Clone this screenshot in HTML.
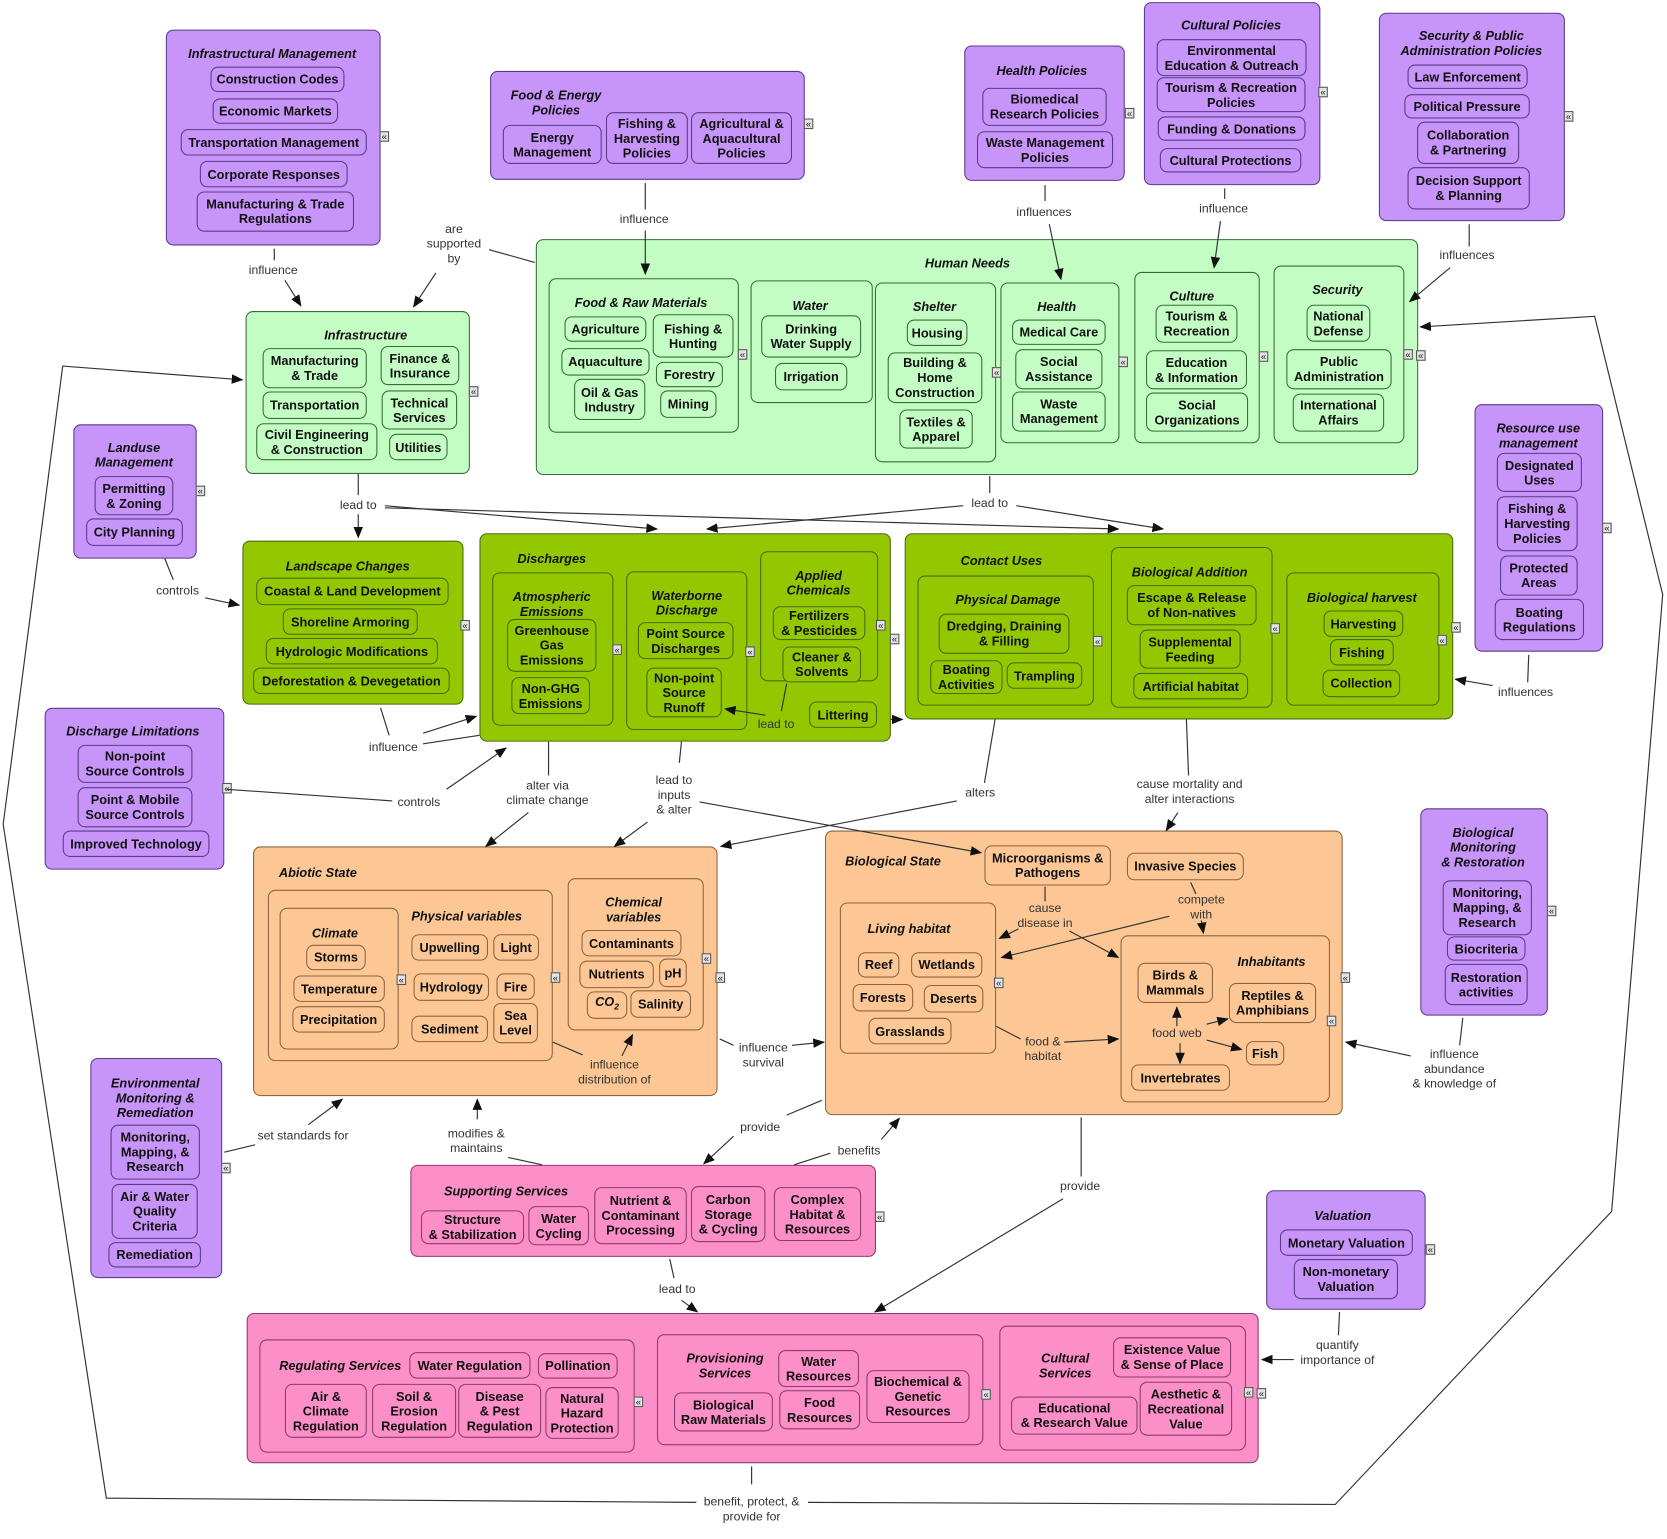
<!DOCTYPE html>
<html><head><meta charset="utf-8"><style>
body{margin:0;width:1667px;height:1539px;overflow:hidden;background:#fff;font-family:"Liberation Sans",Arial,sans-serif;color:#111}
#w{position:absolute;left:0;top:0;width:1568px;height:1447px;transform-origin:0 0;transform:scale(1.0631,1.058)}
.b{position:absolute;box-sizing:border-box;border-radius:7px;border:1.5px solid}
.s{position:absolute;box-sizing:border-box;border-radius:7px;border:1.3px solid}
.i{position:absolute;box-sizing:border-box;border-radius:7px;border:1.3px solid;display:flex;align-items:center;justify-content:center;text-align:center;font-weight:bold;font-size:12px;line-height:14px}
.T{position:absolute;transform:translate(-50%,-50%);font-style:italic;font-weight:bold;font-size:12px;line-height:14px;text-align:center;white-space:nowrap}
.L{position:absolute;transform:translate(-50%,-50%);font-size:11.5px;line-height:14px;text-align:center;white-space:nowrap;color:#333;background:#fff;padding:0 1px}
.Lo{background:#fcc794}
.c{position:absolute;width:9px;height:10px;box-sizing:border-box;border:1px solid #555;background:#e4e4e4;font-size:9px;line-height:8px;text-align:center;color:#222}
.p{background:#c794f9;border-color:#5b3b86}
.g{background:#c3fdc3;border-color:#3b6b3b}
.G{background:#93c800;border-color:#4b6b10}
.o{background:#fcc794;border-color:#8c6440}
.k{background:#fc8fc8;border-color:#8c3c6c}
svg{position:absolute;left:0;top:0}
</style></head><body><div id="w">

<!-- Infrastructural Management -->
<div class="b p" style="left:156px;top:28px;width:202px;height:204px"></div>
<div class="T" style="left:256px;top:51px">Infrastructural Management</div>
<div class="i p" style="left:198px;top:63px;width:126px;height:24px">Construction Codes</div>
<div class="i p" style="left:200px;top:93px;width:118px;height:24px">Economic Markets</div>
<div class="i p" style="left:170px;top:122px;width:175px;height:25px">Transportation Management</div>
<div class="i p" style="left:188px;top:152px;width:139px;height:25px">Corporate Responses</div>
<div class="i p" style="left:185px;top:181px;width:148px;height:38px">Manufacturing &amp; Trade<br>Regulations</div>
<div class="c" style="left:357px;top:124px">«</div>

<!-- Food & Energy Policies -->
<div class="b p" style="left:461px;top:67px;width:296px;height:103px"></div>
<div class="T" style="left:523px;top:97px">Food &amp; Energy<br>Policies</div>
<div class="i p" style="left:473px;top:118px;width:93px;height:37px">Energy<br>Management</div>
<div class="i p" style="left:570px;top:106px;width:77px;height:49px">Fishing &amp;<br>Harvesting<br>Policies</div>
<div class="i p" style="left:650px;top:106px;width:95px;height:49px">Agricultural &amp;<br>Aquacultural<br>Policies</div>
<div class="c" style="left:756px;top:112px">«</div>

<!-- Health Policies -->
<div class="b p" style="left:907px;top:43px;width:151px;height:128px"></div>
<div class="T" style="left:980px;top:67px">Health Policies</div>
<div class="i p" style="left:924px;top:83px;width:117px;height:36px">Biomedical<br>Research Policies</div>
<div class="i p" style="left:919px;top:124px;width:128px;height:35px">Waste Management<br>Policies</div>
<div class="c" style="left:1058px;top:102px">«</div>

<!-- Cultural Policies -->
<div class="b p" style="left:1076px;top:2px;width:166px;height:173px"></div>
<div class="T" style="left:1158px;top:24px">Cultural Policies</div>
<div class="i p" style="left:1088px;top:37px;width:141px;height:35px">Environmental<br>Education &amp; Outreach</div>
<div class="i p" style="left:1088px;top:73px;width:140px;height:33px">Tourism &amp; Recreation<br>Policies</div>
<div class="i p" style="left:1089px;top:110px;width:139px;height:23px">Funding &amp; Donations</div>
<div class="i p" style="left:1091px;top:140px;width:133px;height:23px">Cultural Protections</div>
<div class="c" style="left:1240px;top:82px">«</div>

<!-- Security & Public Admin Policies -->
<div class="b p" style="left:1297px;top:12px;width:175px;height:197px"></div>
<div class="T" style="left:1384px;top:41px">Security &amp; Public<br>Administration Policies</div>
<div class="i p" style="left:1324px;top:61px;width:113px;height:23px">Law Enforcement</div>
<div class="i p" style="left:1321px;top:89px;width:118px;height:23px">Political Pressure</div>
<div class="i p" style="left:1333px;top:115px;width:96px;height:40px">Collaboration<br>&amp; Partnering</div>
<div class="i p" style="left:1324px;top:158px;width:115px;height:40px">Decision Support<br>&amp; Planning</div>
<div class="c" style="left:1471px;top:105px">«</div>

<!-- Landuse Management -->
<div class="b p" style="left:69px;top:401px;width:116px;height:127px"></div>
<div class="T" style="left:126px;top:430px">Landuse<br>Management</div>
<div class="i p" style="left:89px;top:450px;width:74px;height:37px">Permitting<br>&amp; Zoning</div>
<div class="i p" style="left:81px;top:490px;width:91px;height:26px">City Planning</div>
<div class="c" style="left:184px;top:459px">«</div>

<!-- Discharge Limitations -->
<div class="b p" style="left:42px;top:669px;width:169px;height:153px"></div>
<div class="T" style="left:125px;top:691px">Discharge Limitations</div>
<div class="i p" style="left:73px;top:704px;width:108px;height:36px">Non-point<br>Source Controls</div>
<div class="i p" style="left:73px;top:744px;width:108px;height:38px">Point &amp; Mobile<br>Source Controls</div>
<div class="i p" style="left:59px;top:785px;width:138px;height:25px">Improved Technology</div>
<div class="c" style="left:209px;top:740px">«</div>

<!-- Resource use management -->
<div class="b p" style="left:1387px;top:382px;width:121px;height:234px"></div>
<div class="T" style="left:1447px;top:412px">Resource use<br>management</div>
<div class="i p" style="left:1408px;top:428px;width:80px;height:37px">Designated<br>Uses</div>
<div class="i p" style="left:1408px;top:469px;width:76px;height:52px">Fishing &amp;<br>Harvesting<br>Policies</div>
<div class="i p" style="left:1411px;top:525px;width:73px;height:38px">Protected<br>Areas</div>
<div class="i p" style="left:1406px;top:566px;width:84px;height:39px">Boating<br>Regulations</div>
<div class="c" style="left:1507px;top:494px">«</div>

<!-- Biological Monitoring & Restoration -->
<div class="b p" style="left:1336px;top:764px;width:120px;height:196px"></div>
<div class="T" style="left:1395px;top:801px">Biological<br>Monitoring<br>&amp; Restoration</div>
<div class="i p" style="left:1357px;top:832px;width:84px;height:52px">Monitoring,<br>Mapping, &amp;<br>Research</div>
<div class="i p" style="left:1361px;top:885px;width:74px;height:23px">Biocriteria</div>
<div class="i p" style="left:1359px;top:911px;width:78px;height:39px">Restoration<br>activities</div>
<div class="c" style="left:1455px;top:856px">«</div>

<!-- Environmental Monitoring & Remediation -->
<div class="b p" style="left:85px;top:1000px;width:124px;height:208px"></div>
<div class="T" style="left:146px;top:1038px">Environmental<br>Monitoring &amp;<br>Remediation</div>
<div class="i p" style="left:104px;top:1063px;width:84px;height:52px">Monitoring,<br>Mapping, &amp;<br>Research</div>
<div class="i p" style="left:105px;top:1119px;width:81px;height:52px">Air &amp; Water<br>Quality<br>Criteria</div>
<div class="i p" style="left:102px;top:1174px;width:87px;height:24px">Remediation</div>
<div class="c" style="left:208px;top:1099px">«</div>

<!-- Valuation -->
<div class="b p" style="left:1191px;top:1125px;width:150px;height:113px"></div>
<div class="T" style="left:1263px;top:1149px">Valuation</div>
<div class="i p" style="left:1204px;top:1162px;width:125px;height:25px">Monetary Valuation</div>
<div class="i p" style="left:1217px;top:1190px;width:98px;height:38px">Non-monetary<br>Valuation</div>
<div class="c" style="left:1341px;top:1176px">«</div>

<!-- Infrastructure -->
<div class="b g" style="left:231px;top:294px;width:211px;height:154px"></div>
<div class="T" style="left:344px;top:317px">Infrastructure</div>
<div class="i g" style="left:247px;top:329px;width:98px;height:38px">Manufacturing<br>&amp; Trade</div>
<div class="i g" style="left:358px;top:327px;width:74px;height:37px">Finance &amp;<br>Insurance</div>
<div class="i g" style="left:247px;top:370px;width:98px;height:26px">Transportation</div>
<div class="i g" style="left:359px;top:369px;width:71px;height:37px">Technical<br>Services</div>
<div class="i g" style="left:241px;top:400px;width:114px;height:35px">Civil Engineering<br>&amp; Construction</div>
<div class="i g" style="left:366px;top:410px;width:55px;height:25px">Utilities</div>
<div class="c" style="left:441px;top:365px">«</div>

<!-- Human Needs -->
<div class="b g" style="left:504px;top:226px;width:830px;height:223px"></div>
<div class="T" style="left:910px;top:249px">Human Needs</div>
<div class="s g" style="left:516px;top:263px;width:179px;height:146px"></div>
<div class="T" style="left:603px;top:286px">Food &amp; Raw Materials</div>
<div class="i g" style="left:531px;top:299px;width:77px;height:24px">Agriculture</div>
<div class="i g" style="left:614px;top:297px;width:76px;height:41px">Fishing &amp;<br>Hunting</div>
<div class="i g" style="left:528px;top:329px;width:83px;height:26px">Aquaculture</div>
<div class="i g" style="left:617px;top:342px;width:63px;height:24px">Forestry</div>
<div class="i g" style="left:540px;top:358px;width:67px;height:39px">Oil &amp; Gas<br>Industry</div>
<div class="i g" style="left:621px;top:369px;width:53px;height:26px">Mining</div>
<div class="c" style="left:694px;top:330px">«</div>
<div class="s g" style="left:706px;top:265px;width:115px;height:116px"></div>
<div class="T" style="left:762px;top:289px">Water</div>
<div class="i g" style="left:716px;top:298px;width:94px;height:40px">Drinking<br>Water Supply</div>
<div class="i g" style="left:729px;top:343px;width:68px;height:26px">Irrigation</div>
<div class="s g" style="left:823px;top:267px;width:114px;height:170px"></div>
<div class="T" style="left:879px;top:290px">Shelter</div>
<div class="i g" style="left:853px;top:302px;width:57px;height:25px">Housing</div>
<div class="i g" style="left:835px;top:333px;width:89px;height:48px">Building &amp;<br>Home<br>Construction</div>
<div class="i g" style="left:846px;top:387px;width:69px;height:37px">Textiles &amp;<br>Apparel</div>
<div class="c" style="left:933px;top:347px">«</div>
<div class="s g" style="left:941px;top:267px;width:112px;height:152px"></div>
<div class="T" style="left:994px;top:290px">Health</div>
<div class="i g" style="left:952px;top:302px;width:88px;height:24px">Medical Care</div>
<div class="i g" style="left:955px;top:330px;width:82px;height:38px">Social<br>Assistance</div>
<div class="i g" style="left:952px;top:370px;width:88px;height:38px">Waste<br>Management</div>
<div class="c" style="left:1052px;top:337px">«</div>
<div class="s g" style="left:1067px;top:257px;width:118px;height:162px"></div>
<div class="T" style="left:1121px;top:280px">Culture</div>
<div class="i g" style="left:1087px;top:288px;width:77px;height:36px">Tourism &amp;<br>Recreation</div>
<div class="i g" style="left:1078px;top:331px;width:95px;height:37px">Education<br>&amp; Information</div>
<div class="i g" style="left:1078px;top:371px;width:96px;height:37px">Social<br>Organizations</div>
<div class="c" style="left:1184px;top:332px">«</div>
<div class="s g" style="left:1198px;top:251px;width:123px;height:168px"></div>
<div class="T" style="left:1258px;top:274px">Security</div>
<div class="i g" style="left:1229px;top:288px;width:60px;height:35px">National<br>Defense</div>
<div class="i g" style="left:1210px;top:330px;width:99px;height:38px">Public<br>Administration</div>
<div class="i g" style="left:1216px;top:372px;width:86px;height:36px">International<br>Affairs</div>
<div class="c" style="left:1320px;top:330px">«</div>
<div class="c" style="left:1332px;top:331px">«</div>

<!-- Landscape Changes -->
<div class="b G" style="left:228px;top:511px;width:208px;height:155px"></div>
<div class="T" style="left:327px;top:535px">Landscape Changes</div>
<div class="i G" style="left:241px;top:546px;width:181px;height:26px">Coastal &amp; Land Development</div>
<div class="i G" style="left:266px;top:575px;width:127px;height:25px">Shoreline Armoring</div>
<div class="i G" style="left:250px;top:603px;width:162px;height:25px">Hydrologic Modifications</div>
<div class="i G" style="left:238px;top:631px;width:185px;height:25px">Deforestation &amp; Devegetation</div>
<div class="c" style="left:433px;top:586px">«</div>

<!-- Discharges -->
<div class="b G" style="left:451px;top:504px;width:387px;height:197px"></div>
<div class="T" style="left:519px;top:528px">Discharges</div>
<div class="s G" style="left:463px;top:541px;width:114px;height:145px"></div>
<div class="T" style="left:519px;top:571px">Atmospheric<br>Emissions</div>
<div class="i G" style="left:477px;top:585px;width:84px;height:50px">Greenhouse<br>Gas<br>Emissions</div>
<div class="i G" style="left:481px;top:640px;width:74px;height:35px">Non-GHG<br>Emissions</div>
<div class="c" style="left:576px;top:609px">«</div>
<div class="s G" style="left:589px;top:540px;width:114px;height:150px"></div>
<div class="T" style="left:646px;top:570px">Waterborne<br>Discharge</div>
<div class="i G" style="left:600px;top:588px;width:90px;height:35px">Point Source<br>Discharges</div>
<div class="i G" style="left:608px;top:631px;width:71px;height:47px">Non-point<br>Source<br>Runoff</div>
<div class="c" style="left:701px;top:611px">«</div>
<div class="s G" style="left:715px;top:521px;width:111px;height:123px"></div>
<div class="T" style="left:770px;top:551px">Applied<br>Chemicals</div>
<div class="i G" style="left:727px;top:573px;width:87px;height:32px">Fertilizers<br>&amp; Pesticides</div>
<div class="i G" style="left:736px;top:611px;width:74px;height:34px">Cleaner &amp;<br>Solvents</div>
<div class="i G" style="left:761px;top:663px;width:64px;height:25px">Littering</div>
<div class="c" style="left:824px;top:586px">«</div>
<div class="c" style="left:837px;top:599px">«</div>

<!-- Contact Uses -->
<div class="b G" style="left:851px;top:504px;width:516px;height:176px"></div>
<div class="T" style="left:942px;top:530px">Contact Uses</div>
<div class="s G" style="left:863px;top:544px;width:166px;height:123px"></div>
<div class="T" style="left:948px;top:567px">Physical Damage</div>
<div class="i G" style="left:883px;top:580px;width:123px;height:38px">Dredging, Draining<br>&amp; Filling</div>
<div class="i G" style="left:875px;top:624px;width:68px;height:32px">Boating<br>Activities</div>
<div class="i G" style="left:947px;top:626px;width:71px;height:25px">Trampling</div>
<div class="c" style="left:1028px;top:601px">«</div>
<div class="s G" style="left:1045px;top:517px;width:152px;height:152px"></div>
<div class="T" style="left:1119px;top:541px">Biological Addition</div>
<div class="i G" style="left:1060px;top:553px;width:122px;height:38px">Escape &amp; Release<br>of Non-natives</div>
<div class="i G" style="left:1072px;top:595px;width:95px;height:37px">Supplemental<br>Feeding</div>
<div class="i G" style="left:1066px;top:636px;width:108px;height:25px">Artificial habitat</div>
<div class="c" style="left:1195px;top:589px">«</div>
<div class="s G" style="left:1210px;top:541px;width:144px;height:126px"></div>
<div class="T" style="left:1281px;top:565px">Biological harvest</div>
<div class="i G" style="left:1245px;top:577px;width:75px;height:25px">Harvesting</div>
<div class="i G" style="left:1251px;top:604px;width:60px;height:25px">Fishing</div>
<div class="i G" style="left:1244px;top:633px;width:73px;height:26px">Collection</div>
<div class="c" style="left:1352px;top:600px">«</div>
<div class="c" style="left:1365px;top:588px">«</div>

<!-- Abiotic State -->
<div class="b o" style="left:238px;top:800px;width:437px;height:236px"></div>
<div class="T" style="left:299px;top:825px">Abiotic State</div>
<div class="s o" style="left:252px;top:841px;width:268px;height:162px"></div>
<div class="s o" style="left:263px;top:858px;width:112px;height:134px"></div>
<div class="T" style="left:315px;top:882px">Climate</div>
<div class="i o" style="left:288px;top:893px;width:56px;height:24px">Storms</div>
<div class="i o" style="left:276px;top:922px;width:86px;height:25px">Temperature</div>
<div class="i o" style="left:275px;top:951px;width:87px;height:25px">Precipitation</div>
<div class="c" style="left:373px;top:921px">«</div>
<div class="T" style="left:439px;top:866px">Physical variables</div>
<div class="i o" style="left:387px;top:883px;width:72px;height:25px">Upwelling</div>
<div class="i o" style="left:464px;top:883px;width:43px;height:25px">Light</div>
<div class="i o" style="left:389px;top:920px;width:71px;height:26px">Hydrology</div>
<div class="i o" style="left:467px;top:920px;width:36px;height:25px">Fire</div>
<div class="i o" style="left:387px;top:960px;width:72px;height:25px">Sediment</div>
<div class="i o" style="left:464px;top:948px;width:42px;height:38px">Sea<br>Level</div>
<div class="c" style="left:518px;top:919px">«</div>
<div class="s o" style="left:534px;top:830px;width:128px;height:144px"></div>
<div class="T" style="left:596px;top:860px">Chemical<br>variables</div>
<div class="i o" style="left:547px;top:879px;width:94px;height:25px">Contaminants</div>
<div class="i o" style="left:545px;top:908px;width:70px;height:26px">Nutrients</div>
<div class="i o" style="left:620px;top:906px;width:26px;height:27px">pH</div>
<div class="i o" style="left:552px;top:937px;width:38px;height:26px"><i>CO<sub style="font-size:8px">2</sub></i></div>
<div class="i o" style="left:593px;top:936px;width:57px;height:26px">Salinity</div>
<div class="c" style="left:660px;top:901px">«</div>
<div class="c" style="left:673px;top:919px">«</div>

<!-- Biological State -->
<div class="b o" style="left:776px;top:785px;width:487px;height:269px"></div>
<div class="T" style="left:840px;top:814px">Biological State</div>
<div class="i o" style="left:926px;top:799px;width:119px;height:38px">Microorganisms &amp;<br>Pathogens</div>
<div class="i o" style="left:1060px;top:806px;width:110px;height:26px">Invasive Species</div>
<div class="s o" style="left:790px;top:853px;width:147px;height:143px"></div>
<div class="T" style="left:855px;top:878px">Living habitat</div>
<div class="i o" style="left:807px;top:900px;width:39px;height:24px">Reef</div>
<div class="i o" style="left:857px;top:900px;width:67px;height:24px">Wetlands</div>
<div class="i o" style="left:802px;top:930px;width:57px;height:26px">Forests</div>
<div class="i o" style="left:869px;top:931px;width:56px;height:26px">Deserts</div>
<div class="i o" style="left:817px;top:962px;width:78px;height:25px">Grasslands</div>
<div class="c" style="left:935px;top:924px">«</div>
<div class="s o" style="left:1054px;top:884px;width:197px;height:158px"></div>
<div class="T" style="left:1196px;top:909px">Inhabitants</div>
<div class="i o" style="left:1070px;top:910px;width:71px;height:38px">Birds &amp;<br>Mammals</div>
<div class="i o" style="left:1156px;top:929px;width:82px;height:38px">Reptiles &amp;<br>Amphibians</div>
<div class="i o" style="left:1172px;top:984px;width:36px;height:23px">Fish</div>
<div class="i o" style="left:1064px;top:1006px;width:93px;height:25px">Invertebrates</div>
<div class="c" style="left:1248px;top:960px">«</div>
<div class="c" style="left:1261px;top:919px">«</div>
<div class="L Lo" style="left:983px;top:866px">cause<br>disease in</div>
<div class="L Lo" style="left:1130px;top:858px">compete<br>with</div>
<div class="L Lo" style="left:981px;top:992px">food &amp;<br>habitat</div>
<div class="L Lo" style="left:1107px;top:977px">food web</div>

<!-- Supporting Services -->
<div class="b k" style="left:386px;top:1101px;width:438px;height:87px"></div>
<div class="T" style="left:476px;top:1126px">Supporting Services</div>
<div class="i k" style="left:396px;top:1144px;width:97px;height:32px">Structure<br>&amp; Stabilization</div>
<div class="i k" style="left:497px;top:1140px;width:57px;height:37px">Water<br>Cycling</div>
<div class="i k" style="left:559px;top:1122px;width:87px;height:54px">Nutrient &amp;<br>Contaminant<br>Processing</div>
<div class="i k" style="left:650px;top:1121px;width:70px;height:53px">Carbon<br>Storage<br>&amp; Cycling</div>
<div class="i k" style="left:728px;top:1122px;width:82px;height:51px">Complex<br>Habitat &amp;<br>Resources</div>
<div class="c" style="left:823px;top:1145px">«</div>

<!-- Ecosystem services -->
<div class="b k" style="left:232px;top:1241px;width:952px;height:142px"></div>
<div class="s k" style="left:244px;top:1266px;width:353px;height:107px"></div>
<div class="T" style="left:320px;top:1291px">Regulating Services</div>
<div class="i k" style="left:385px;top:1278px;width:114px;height:25px">Water Regulation</div>
<div class="i k" style="left:506px;top:1279px;width:75px;height:24px">Pollination</div>
<div class="i k" style="left:268px;top:1308px;width:77px;height:51px">Air &amp;<br>Climate<br>Regulation</div>
<div class="i k" style="left:350px;top:1308px;width:79px;height:51px">Soil &amp;<br>Erosion<br>Regulation</div>
<div class="i k" style="left:431px;top:1308px;width:78px;height:51px">Disease<br>&amp; Pest<br>Regulation</div>
<div class="i k" style="left:513px;top:1311px;width:69px;height:49px">Natural<br>Hazard<br>Protection</div>
<div class="c" style="left:596px;top:1320px">«</div>
<div class="s k" style="left:618px;top:1261px;width:307px;height:105px"></div>
<div class="T" style="left:682px;top:1291px">Provisioning<br>Services</div>
<div class="i k" style="left:732px;top:1276px;width:76px;height:35px">Water<br>Resources</div>
<div class="i k" style="left:634px;top:1316px;width:93px;height:37px">Biological<br>Raw Materials</div>
<div class="i k" style="left:733px;top:1314px;width:76px;height:37px">Food<br>Resources</div>
<div class="i k" style="left:815px;top:1295px;width:97px;height:50px">Biochemical &amp;<br>Genetic<br>Resources</div>
<div class="c" style="left:923px;top:1313px">«</div>
<div class="s k" style="left:940px;top:1253px;width:232px;height:118px"></div>
<div class="T" style="left:1002px;top:1291px">Cultural<br>Services</div>
<div class="i k" style="left:1047px;top:1264px;width:111px;height:38px">Existence Value<br>&amp; Sense of Place</div>
<div class="i k" style="left:951px;top:1320px;width:119px;height:36px">Educational<br>&amp; Research Value</div>
<div class="i k" style="left:1072px;top:1306px;width:87px;height:51px">Aesthetic &amp;<br>Recreational<br>Value</div>
<div class="c" style="left:1170px;top:1311px">«</div>
<div class="c" style="left:1182px;top:1312px">«</div>

<svg width="1568" height="1447" viewBox="0 0 1568 1447">
<defs><marker id="a" markerWidth="11" markerHeight="9" refX="10" refY="4.5" orient="auto" markerUnits="userSpaceOnUse"><path d="M0,0L11,4.5L0,9z" fill="#111"/></marker></defs>
<g stroke="#333" stroke-width="1.1" fill="none">
<path d="M258 235V246"/><path d="M268 265L283 289" marker-end="url(#a)"/>
<path d="M460 236L503 248"/><path d="M410 258L389 290" marker-end="url(#a)"/>
<path d="M607 173V198"/><path d="M607 218V259" marker-end="url(#a)"/>
<path d="M983 175V190"/><path d="M987 212L998 264" marker-end="url(#a)"/>
<path d="M1152 178V188"/><path d="M1148 209L1142 253" marker-end="url(#a)"/>
<path d="M1382 212V233"/><path d="M1364 253L1326 285" marker-end="url(#a)"/>
<path d="M655 1420L100 1416L3 779L59 346L228 359" marker-end="url(#a)"/>
<path d="M707 1386V1403"/>
<path d="M760 1420L1256 1422L1516 1145L1564 562L1500 299L1336 309" marker-end="url(#a)"/>
<path d="M337 448V468"/><path d="M337 486V508" marker-end="url(#a)"/>
<path d="M362 478L618 500" marker-end="url(#a)"/>
<path d="M362 480L1052 500" marker-end="url(#a)"/>
<path d="M931 450V466"/>
<path d="M906 478L665 500" marker-end="url(#a)"/>
<path d="M956 478L1094 500" marker-end="url(#a)"/>
<path d="M155 528L163 548"/><path d="M193 565L225 572" marker-end="url(#a)"/>
<path d="M358 669L366 695"/><path d="M398 693L448 677" marker-end="url(#a)"/><path d="M398 703L451 695"/>
<path d="M213 746L369 757"/><path d="M420 746L476 707" marker-end="url(#a)"/>
<path d="M516 701V733"/><path d="M497 768L457 800" marker-end="url(#a)"/>
<path d="M641 701L639 721"/><path d="M609 777L578 800" marker-end="url(#a)"/>
<path d="M658 758L923 806" marker-end="url(#a)"/>
<path d="M936 680L926 740"/><path d="M900 757L678 800" marker-end="url(#a)"/>
<path d="M1116 680L1118 733"/><path d="M1108 768L1097 785" marker-end="url(#a)"/>
<path d="M1438 619L1437 645"/><path d="M1404 648L1369 642" marker-end="url(#a)"/>
<path d="M677 982L690 988"/><path d="M745 988L775 985" marker-end="url(#a)"/>
<path d="M520 985L548 997"/><path d="M585 998L595 978" marker-end="url(#a)"/>
<path d="M773 1040L740 1054"/><path d="M690 1074L662 1100" marker-end="url(#a)"/>
<path d="M747 1101L781 1090"/><path d="M829 1077L846 1057" marker-end="url(#a)"/>
<path d="M1017 1056V1112"/><path d="M1000 1133L823 1240" marker-end="url(#a)"/>
<path d="M630 1190L634 1208"/><path d="M641 1229L656 1240" marker-end="url(#a)"/>
<path d="M449 1058V1039" marker-end="url(#a)"/><path d="M478 1094L510 1101"/>
<path d="M211 1089L240 1082"/><path d="M290 1063L322 1039" marker-end="url(#a)"/>
<path d="M1260 1240L1259 1262"/><path d="M1217 1285L1187 1285" marker-end="url(#a)"/>
<path d="M1376 962L1373 988"/><path d="M1327 998L1266 985" marker-end="url(#a)"/>
<path d="M983 838V852"/><path d="M958 878L940 887" marker-end="url(#a)"/>
<path d="M1006 880L1052 905" marker-end="url(#a)"/>
<path d="M1120 834L1125 845"/><path d="M1130 870L1132 882" marker-end="url(#a)"/>
<path d="M1100 866L942 905" marker-end="url(#a)"/>
<path d="M937 970L960 982"/><path d="M1001 985L1052 982" marker-end="url(#a)"/>
<path d="M1107 970V952" marker-end="url(#a)"/>
<path d="M1110 986V1005" marker-end="url(#a)"/>
<path d="M1135 983L1168 992" marker-end="url(#a)"/>
<path d="M1135 968L1155 963" marker-end="url(#a)"/>
<path d="M735 672L740 646"/><path d="M720 676L682 670" marker-end="url(#a)"/>
<path d="M838 680L849 680" marker-end="url(#a)"/>
</g></svg>

<div class="L" style="left:257px;top:256px">influence</div>
<div class="L" style="left:427px;top:231px">are<br>supported<br>by</div>
<div class="L" style="left:606px;top:208px">influence</div>
<div class="L" style="left:982px;top:201px">influences</div>
<div class="L" style="left:1151px;top:198px">influence</div>
<div class="L" style="left:1380px;top:242px">influences</div>
<div class="L" style="left:337px;top:478px">lead to</div>
<div class="L" style="left:931px;top:476px">lead to</div>
<div class="L" style="left:167px;top:559px">controls</div>
<div class="L" style="left:370px;top:707px">influence</div>
<div class="L" style="left:394px;top:759px">controls</div>
<div class="L" style="left:515px;top:750px">alter via<br>climate change</div>
<div class="L" style="left:634px;top:752px">lead to<br>inputs<br>&amp; alter</div>
<div class="L" style="left:922px;top:750px">alters</div>
<div class="L" style="left:1119px;top:749px">cause mortality and<br>alter interactions</div>
<div class="L" style="left:1435px;top:655px">influences</div>
<div class="L" style="left:730px;top:685px;background:none">lead to</div>
<div class="L" style="left:718px;top:998px">influence<br>survival</div>
<div class="L Lo" style="left:578px;top:1014px">influence<br>distribution of</div>
<div class="L" style="left:715px;top:1066px">provide</div>
<div class="L" style="left:808px;top:1088px">benefits</div>
<div class="L" style="left:1016px;top:1122px">provide</div>
<div class="L" style="left:637px;top:1219px">lead to</div>
<div class="L" style="left:448px;top:1079px">modifies &amp;<br>maintains</div>
<div class="L" style="left:285px;top:1074px">set standards for</div>
<div class="L" style="left:1258px;top:1279px">quantify<br>importance of</div>
<div class="L" style="left:1368px;top:1011px">influence<br>abundance<br>&amp; knowledge of</div>
<div class="L" style="left:707px;top:1427px">benefit, protect, &amp;<br>provide for</div>

</div></body></html>
